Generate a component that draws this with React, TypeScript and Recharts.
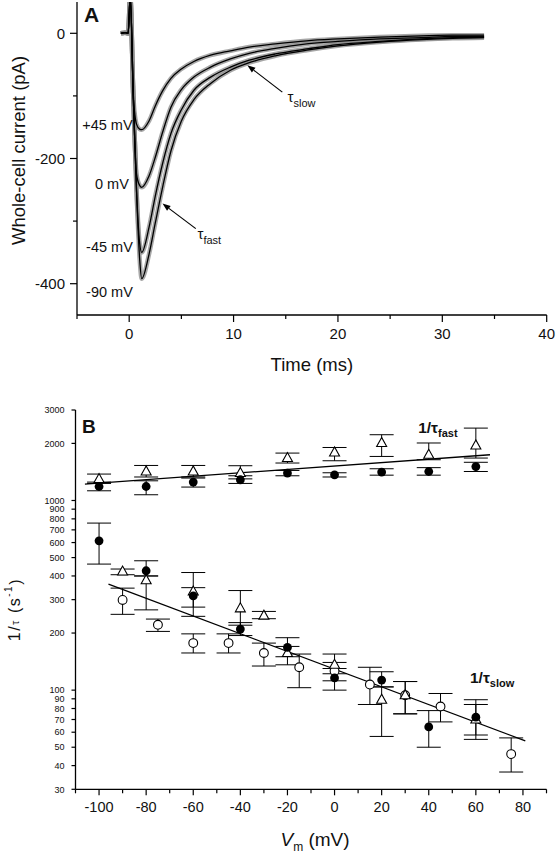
import React from "react";
import {
  LineChart,
  ComposedChart,
  Line,
  Scatter,
  XAxis,
  YAxis,
  ErrorBar,
  ReferenceDot,
  ReferenceLine,
} from "recharts";

const FONT = "'Liberation Sans', Arial, Helvetica, sans-serif";

// ---- panel A: whole-cell currents (pA) vs time (ms), fitted traces ----
const timeMs = [-0.8, -0.4, -0.1, 0.1, 0.4, 0.7, 1.0, 1.2, 1.9, 2.5, 3.2, 4, 5, 6.2, 7.8, 9.7, 11.5, 14, 17, 20, 24, 28, 31, 34];
const traceP45 = [0, 1, 0, 60, -100, -145, -153, -154, -140, -116, -92, -72, -57, -45, -35, -28, -22, -17, -12, -9, -6, -4, -3, -3];
const trace0 = [0, 1, 0, 60, -105, -225, -243, -246, -228, -198, -158, -118, -90, -70, -54, -41, -32, -24, -17, -13, -9, -7, -5, -5];
const traceM45 = [0, 1, 0, 60, -105, -250, -335, -350, -310, -260, -208, -160, -122, -91, -70, -54, -43, -33, -25, -18, -13, -9, -7, -6];
const traceM90 = [0, 1, 0, 60, -105, -250, -360, -392, -353, -303, -246, -188, -140, -106, -80, -59, -47, -36, -27, -20, -14, -10, -8, -7];
const timeTicks = [-5, 0, 5, 10, 15, 20, 25, 30, 35, 40];
const currentTicks = [-400, -300, -200, -100, 0];

// ---- panel B: 1/tau (s^-1) vs membrane potential (mV) ----
// rows: [Vm, value, error low, error high]
type Row = [number, number, number, number];
const fastFilled: Row[] = [
  [-100, 1185, 1125, 1250],
  [-80, 1185, 1072, 1270],
  [-60, 1250, 1177, 1313],
  [-40, 1286, 1230, 1350],
  [-20, 1395, 1350, 1440],
  [0, 1366, 1330, 1400],
  [20, 1412, 1360, 1470],
  [40, 1422, 1360, 1490],
  [60, 1510, 1422, 1590],
];
const fastTriangle: Row[] = [
  [-100, 1297, 1230, 1378],
  [-80, 1422, 1330, 1530],
  [-60, 1422, 1330, 1530],
  [-40, 1395, 1300, 1525],
  [-20, 1674, 1576, 1778],
  [0, 1792, 1620, 1903],
  [20, 2010, 1707, 2222],
  [40, 1742, 1640, 2010],
  [60, 1950, 1674, 2408],
];
const slowFilled: Row[] = [
  [-100, 613, 462, 760],
  [-80, 426, 400, 481],
  [-60, 314, 274, 347],
  [-40, 210, 194, 227],
  [-20, 168, 150, 189],
  [0, 116, 100, 130],
  [20, 113, 104, 125],
  [40, 64, 50, 78],
  [60, 72, 58, 84],
];
const slowTriangle: Row[] = [
  [-90, 422, 406, 435],
  [-80, 380, 265, 400],
  [-60, 331, 245, 417],
  [-40, 270, 220, 335],
  [-30, 247, 238, 260],
  [-20, 157, 136, 170],
  [0, 136, 122, 155],
  [20, 89, 57, 104],
  [30, 94, 75, 111],
  [60, 70, 55, 89],
];
const slowOpen: Row[] = [
  [-90, 299, 251, 345],
  [-75, 221, 204, 237],
  [-60, 177, 157, 198],
  [-45, 177, 157, 198],
  [-30, 157, 134, 177],
  [-15, 132, 103, 155],
  [0, 126, 112, 140],
  [15, 107, 84, 132],
  [30, 94, 75, 111],
  [45, 82, 68, 96],
  [75, 46, 37, 56],
];
const fastFit: [number, number][] = [[-106, 1220], [66, 1742]];
const slowFit: [number, number][] = [[-96, 362], [81, 54]];
const vmTicks = [-110, -100, -90, -80, -70, -60, -50, -40, -30, -20, -10, 0, 10, 20, 30, 40, 50, 60, 70, 80, 90];
const rateTicks = [30, 40, 50, 60, 70, 80, 90, 100, 200, 300, 400, 500, 600, 700, 800, 900, 1000, 2000, 3000];

const traceRows = timeMs.map((t, k) => ({
  t,
  p45: traceP45[k],
  m0: trace0[k],
  m45: traceM45[k],
  m90: traceM90[k],
}));
const toPoints = (rows: Row[]) =>
  rows.map(([v, val, lo, hi]) => ({ v, val, err: [val - lo, hi - val] }));
const toFit = (rows: [number, number][]) => rows.map(([v, val]) => ({ v, val }));

// ---- ticks ----
const TimeTick = ({ x, y, payload }: any) => {
  const major = payload.value % 10 === 0;
  return (
    <g>
      <line x1={x} x2={x} y1={y} y2={y + (major ? 7 : 4)} stroke="#000" strokeWidth={1.2} />
      {major && (
        <text x={x} y={y + 23.5} textAnchor="middle" fontSize={15} fontFamily={FONT} fill="#111">
          {payload.value}
        </text>
      )}
    </g>
  );
};
const CurrentTick = ({ x, y, payload }: any) => {
  const major = payload.value % 200 === 0;
  return (
    <g>
      <line x1={x} x2={x - (major ? 7 : 4)} y1={y} y2={y} stroke="#000" strokeWidth={1.2} />
      {major && (
        <text x={x - 12} y={y + 5.3} textAnchor="end" fontSize={15} fontFamily={FONT} fill="#111">
          {payload.value}
        </text>
      )}
    </g>
  );
};
const VmTick = ({ x, y, payload }: any) => {
  const major = payload.value % 20 === 0;
  return (
    <g>
      <line x1={x} x2={x} y1={y} y2={y + (major ? 6 : 4)} stroke="#000" strokeWidth={1.2} />
      {major && (
        <text x={x} y={y + 22.5} textAnchor="middle" fontSize={14.5} fontFamily={FONT} fill="#111">
          {payload.value}
        </text>
      )}
    </g>
  );
};
const RateTick = ({ x, y, payload }: any) => (
  <g>
    <line x1={x} x2={x - 4} y1={y} y2={y} stroke="#000" strokeWidth={1.2} />
    <text x={x - 11} y={y + 3.2} textAnchor="end" fontSize={9} fontFamily={FONT} fill="#111">
      {payload.value}
    </text>
  </g>
);

// ---- axis titles ----
const currentTitle = (p: any) => {
  const vb = p.viewBox ?? { x: 0, y: 2, width: 77, height: 313 };
  const cx = vb.x + 18.5;
  const cy = vb.y + vb.height / 2 - 8;
  return (
    <text x={cx} y={cy} transform={`rotate(-90, ${cx}, ${cy})`} textAnchor="middle" dominantBaseline="central" fontSize={18.5} fontFamily={FONT} fill="#111">
      Whole-cell current (pA)
    </text>
  );
};
const timeTitle = (p: any) => {
  const vb = p.viewBox ?? { x: 77, y: 315, width: 470, height: 80 };
  return (
    <text x={vb.x + vb.width / 2} y={vb.y + 56} textAnchor="middle" fontSize={18.5} fontFamily={FONT} fill="#111">
      Time (ms)
    </text>
  );
};
const rateTitle = (p: any) => {
  const vb = p.viewBox ?? { x: 0, y: 15, width: 75.5, height: 379 };
  const cx = vb.x + 15;
  const cy = vb.y + vb.height / 2 + 10;
  return (
    <text x={cx} y={cy} transform={`rotate(-90, ${cx}, ${cy})`} textAnchor="middle" dominantBaseline="central" fontSize={16} letterSpacing={1.5} fontFamily={FONT} fill="#111">
      1/<tspan fontSize={11}>τ</tspan> (s<tspan fontSize={10} dy={-7}>-1</tspan><tspan dy={7}>)</tspan>
    </text>
  );
};
const vmTitle = (p: any) => {
  const vb = p.viewBox ?? { x: 75.5, y: 789, width: 471, height: 64 };
  return (
    <text x={vb.x + vb.width / 2 + 4} y={vb.y + 56.7} textAnchor="middle" fontSize={19} fontFamily={FONT} fill="#111">
      <tspan fontStyle="italic">V</tspan>
      <tspan fontSize={12} dy={5}>m</tspan>
      <tspan dy={-5}> (mV)</tspan>
    </text>
  );
};

// ---- markers and annotations ----
const FilledDot = ({ cx, cy }: any) => <circle cx={cx} cy={cy} r={4.4} fill="#000" />;
const OpenDot = ({ cx, cy }: any) => <circle cx={cx} cy={cy} r={4.4} fill="#fff" stroke="#000" strokeWidth={1.1} />;
const OpenTriangle = ({ cx, cy }: any) => (
  <polygon
    points={`${cx},${cy - 5.5} ${cx - 5},${cy + 3.5} ${cx + 5},${cy + 3.5}`}
    fill="#fff"
    stroke="#000"
    strokeWidth={1.1}
  />
);
const Arrow = ({ x1, y1, x2, y2 }: any) => {
  const a = Math.atan2(y2 - y1, x2 - x1);
  const bx = x2 - 8 * Math.cos(a);
  const by = y2 - 8 * Math.sin(a);
  const w = 3;
  return (
    <g>
      <line x1={x1} y1={y1} x2={bx} y2={by} stroke="#000" strokeWidth={1.2} />
      <polygon
        points={`${x2},${y2} ${bx - w * Math.sin(a)},${by + w * Math.cos(a)} ${bx + w * Math.sin(a)},${by - w * Math.cos(a)}`}
        fill="#000"
      />
    </g>
  );
};
const note = (key: string, x: number, y: number, render: (cx: number, cy: number) => React.ReactElement) => (
  <ReferenceDot key={key} x={x} y={y} r={0} ifOverflow="visible" shape={(p: any) => render(p.cx, p.cy)} />
);
const txt = { fontFamily: FONT, fill: "#111" };

const traceKeys = ["p45", "m0", "m45", "m90"];

export default function App() {
  return (
    <div style={{ position: "absolute", left: 0, top: 0, width: 556, height: 853, background: "#fff" }}>
      <LineChart width={556} height={395} data={traceRows} margin={{ top: 2, right: 9.3, bottom: 0, left: 0 }}>
        <XAxis
          type="number"
          dataKey="t"
          domain={[-5, 40]}
          ticks={timeTicks}
          interval={0}
          allowDataOverflow
          height={80}
          tickSize={0}
          tickMargin={0}
          tickLine={false}
          tick={TimeTick}
          axisLine={{ stroke: "#000", strokeWidth: 1.3 }}
          label={{ content: timeTitle }}
        />
        <YAxis
          type="number"
          domain={[-450, 50]}
          ticks={currentTicks}
          interval={0}
          allowDataOverflow
          width={77}
          tickSize={0}
          tickMargin={0}
          tickLine={false}
          tick={CurrentTick}
          axisLine={{ stroke: "#000", strokeWidth: 1.3 }}
          label={{ content: currentTitle }}
        />
        {/* grey band standing in for the raw (noisy) recordings under each fit */}
        {traceKeys.map((k) => (
          <Line key={`raw-${k}`} type="monotone" dataKey={k} stroke="#8a8a8a" strokeWidth={4.5} strokeOpacity={0.75} dot={false} isAnimationActive={false} />
        ))}
        {traceKeys.map((k) => (
          <Line key={`fit-${k}`} type="monotone" dataKey={k} stroke="#000" strokeWidth={1.3} dot={false} isAnimationActive={false} />
        ))}
        {note("A", -4.33, 17.6, (x, y) => (
          <text x={x} y={y} fontSize={21} fontWeight="bold" {...txt}>A</text>
        ))}
        {note("l45", 0.33, -155, (x, y) => (
          <text x={x} y={y} textAnchor="end" fontSize={14.5} {...txt}>+45 mV</text>
        ))}
        {note("l0", -0.03, -248, (x, y) => (
          <text x={x} y={y} textAnchor="end" fontSize={14.5} {...txt}>0 mV</text>
        ))}
        {note("lm45", 0.35, -350, (x, y) => (
          <text x={x} y={y} textAnchor="end" fontSize={14.5} {...txt}>-45 mV</text>
        ))}
        {note("lm90", 0.35, -421, (x, y) => (
          <text x={x} y={y} textAnchor="end" fontSize={14.5} {...txt}>-90 mV</text>
        ))}
        <ReferenceLine segment={[{ x: 14.67, y: -94 }, { x: 11.32, y: -51 }]} ifOverflow="visible" shape={Arrow} />
        <ReferenceLine segment={[{ x: 6.38, y: -312 }, { x: 3.19, y: -272 }]} ifOverflow="visible" shape={Arrow} />
        {note("tslow", 15.17, -109, (x, y) => (
          <text x={x} y={y} fontSize={15} {...txt}>
            τ<tspan fontSize={11} dy={5}>slow</tspan>
          </text>
        ))}
        {note("tfast", 6.54, -328, (x, y) => (
          <text x={x} y={y} fontSize={15} {...txt}>
            τ<tspan fontSize={11} dy={5}>fast</tspan>
          </text>
        ))}
      </LineChart>

      <ComposedChart width={556} height={458} margin={{ top: 15, right: 9.5, bottom: 0, left: 0 }}>
        <XAxis
          type="number"
          dataKey="v"
          domain={[-110, 90]}
          ticks={vmTicks}
          interval={0}
          allowDataOverflow
          height={63.7}
          tickSize={0}
          tickMargin={0}
          tickLine={false}
          tick={VmTick}
          axisLine={{ stroke: "#000", strokeWidth: 1.3 }}
          label={{ content: vmTitle }}
        />
        <YAxis
          type="number"
          dataKey="val"
          scale="log"
          domain={[30, 3000]}
          ticks={rateTicks}
          interval={0}
          allowDataOverflow
          width={75.5}
          tickSize={0}
          tickMargin={0}
          tickLine={false}
          tick={RateTick}
          axisLine={{ stroke: "#000", strokeWidth: 1.3 }}
          label={{ content: rateTitle }}
        />
        <Line data={toFit(fastFit)} dataKey="val" type="linear" stroke="#000" strokeWidth={1.3} dot={false} isAnimationActive={false} />
        <Line data={toFit(slowFit)} dataKey="val" type="linear" stroke="#000" strokeWidth={1.3} dot={false} isAnimationActive={false} />
        <Scatter data={toPoints(fastTriangle)} shape={OpenTriangle} isAnimationActive={false}>
          <ErrorBar dataKey="err" direction="y" width={12} stroke="#000" strokeWidth={1} />
        </Scatter>
        <Scatter data={toPoints(slowOpen)} shape={OpenDot} isAnimationActive={false}>
          <ErrorBar dataKey="err" direction="y" width={12} stroke="#000" strokeWidth={1} />
        </Scatter>
        <Scatter data={toPoints(slowTriangle)} shape={OpenTriangle} isAnimationActive={false}>
          <ErrorBar dataKey="err" direction="y" width={12} stroke="#000" strokeWidth={1} />
        </Scatter>
        <Scatter data={toPoints(fastFilled)} shape={FilledDot} isAnimationActive={false}>
          <ErrorBar dataKey="err" direction="y" width={12} stroke="#000" strokeWidth={1} />
        </Scatter>
        <Scatter data={toPoints(slowFilled)} shape={FilledDot} isAnimationActive={false}>
          <ErrorBar dataKey="err" direction="y" width={12} stroke="#000" strokeWidth={1} />
        </Scatter>
        {note("B", -107.2, 2275, (x, y) => (
          <text x={x} y={y} fontSize={19} fontWeight="bold" {...txt}>B</text>
        ))}
        {note("rfast", 35.5, 2275, (x, y) => (
          <text x={x} y={y} fontSize={15.5} fontWeight="bold" {...txt}>
            1/τ<tspan fontSize={11} dy={4}>fast</tspan>
          </text>
        ))}
        {note("rslow", 57.5, 109, (x, y) => (
          <text x={x} y={y} fontSize={15.5} fontWeight="bold" {...txt}>
            1/τ<tspan fontSize={11} dy={4}>slow</tspan>
          </text>
        ))}
      </ComposedChart>
    </div>
  );
}
